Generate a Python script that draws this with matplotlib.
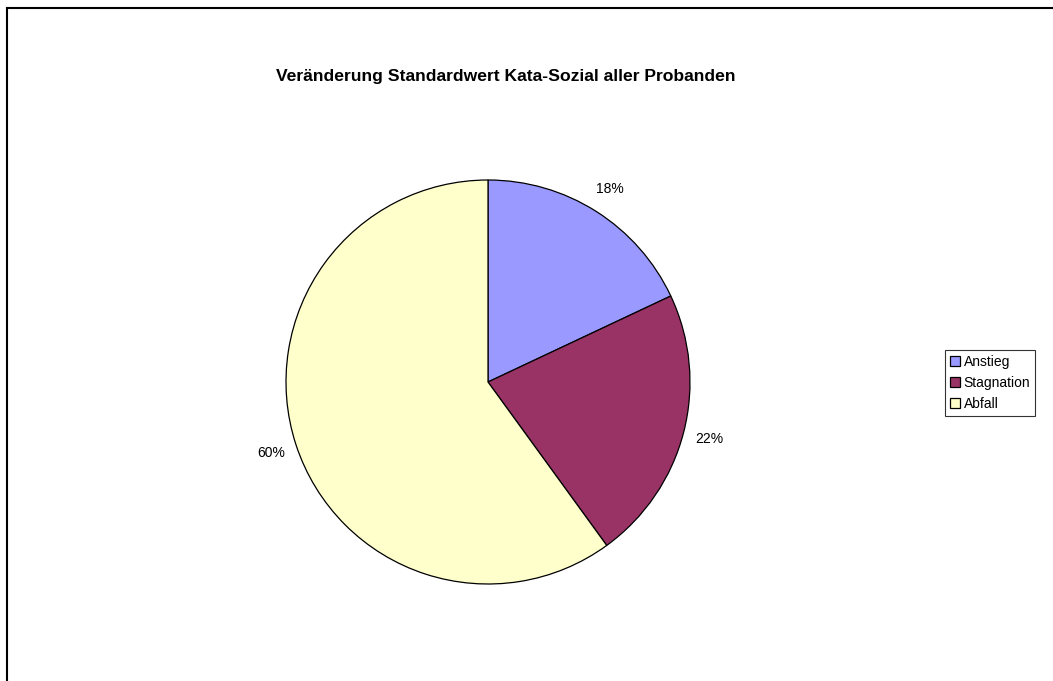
import matplotlib.pyplot as plt
from matplotlib.patches import Rectangle

labels = ["Anstieg", "Stagnation", "Abfall"]
shares = [18, 22, 60]
colors = ["#9999FF", "#993366", "#FFFFCC"]
title = "Veränderung Standardwert Kata-Sozial aller Probanden"

plt.rcParams["font.family"] = ["Liberation Sans", "DejaVu Sans"]

W, H = 1053, 681
fig = plt.figure(figsize=(W / 100, H / 100), dpi=100)
fig.patch.set_facecolor("white")

# outer chart border (only left and top visible in the original crop)
fig.add_artist(Rectangle((7 / W, -0.05), 1.1, (H - 8) / H + 0.05,
                         transform=fig.transFigure, fill=False,
                         edgecolor="black", linewidth=1.5))

cx, cy, r = 488, 382, 202
ax = fig.add_axes([(cx - r) / W, (H - cy - r) / H, 2 * r / W, 2 * r / H])
wedges, _, autotexts = ax.pie(
    shares,
    colors=colors,
    startangle=90,
    counterclock=False,
    autopct="%d%%",
    pctdistance=1.13,
    radius=1,
    wedgeprops=dict(edgecolor="black", linewidth=0.9),
    textprops=dict(fontsize=10),
)
ax.set_xlim(-1, 1)
ax.set_ylim(-1, 1)
ax.set_aspect("equal")
ax.axis("off")

fig.text(506 / W, 1 - 76 / H, title, ha="center", va="center",
         fontsize=12.6, fontweight="bold")

leg = fig.legend(wedges, labels, loc="center left",
                 bbox_to_anchor=(945 / W, 1 - 383 / H),
                 fontsize=10, frameon=True, fancybox=False,
                 handlelength=0.75, handleheight=0.75, handletextpad=0.25,
                 labelspacing=0.5, borderpad=0.35, borderaxespad=0)
leg.get_frame().set_edgecolor("black")
leg.get_frame().set_linewidth(0.8)

fig.savefig("out.png", dpi=100)
